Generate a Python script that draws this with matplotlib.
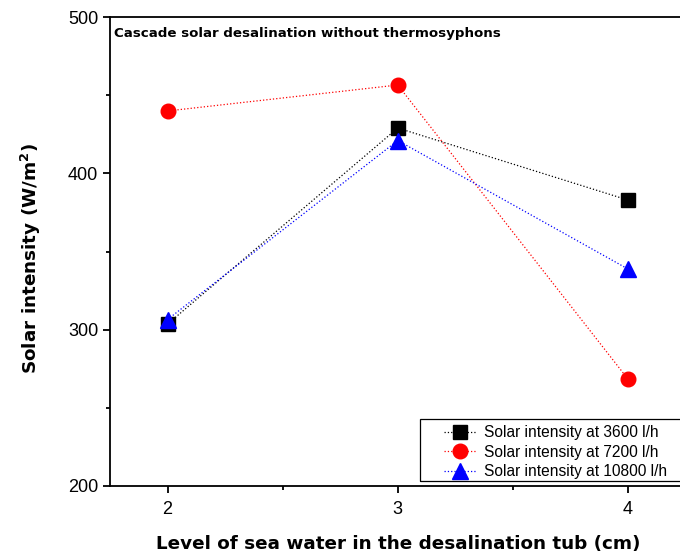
import matplotlib
matplotlib.use("Agg")
import matplotlib.pyplot as plt
from matplotlib.ticker import MultipleLocator
from matplotlib.patches import Rectangle

plt.rcParams['font.family'] = ['Liberation Sans', 'DejaVu Sans']
plt.rcParams['mathtext.fontset'] = 'dejavusans'

levels = [2, 3, 4]
s3600 = [303.6, 429.0, 382.9]
s7200 = [439.9, 456.5, 268.4]
s10800 = [306.5, 421.0, 338.8]
labels = ["Solar intensity at 3600 l/h", "Solar intensity at 7200 l/h", "Solar intensity at 10800 l/h"]

fig = plt.figure(figsize=(6.8, 5.56), dpi=100)
W, H = 680, 556
ax = fig.add_axes([110 / W, 1 - 486 / H, (685.5 - 110) / W, (486 - 17) / H])

ax.plot(levels, s3600, ls=':', lw=0.9, color='black', marker='s', ms=9.5, label=labels[0])
ax.plot(levels, s7200, ls=':', lw=0.9, color='red', marker='o', ms=10.5, label=labels[1])
ax.plot(levels, s10800, ls=':', lw=0.9, color='blue', marker='^', ms=11, label=labels[2])

ax.set_xlim(1.75, 4.25)
ax.set_ylim(200, 500)
ax.xaxis.set_major_locator(MultipleLocator(1))
ax.xaxis.set_minor_locator(MultipleLocator(0.5))
ax.yaxis.set_major_locator(MultipleLocator(100))
ax.yaxis.set_minor_locator(MultipleLocator(50))
ax.tick_params(which='major', direction='out', length=5, width=1.3, labelsize=13)
ax.tick_params(which='minor', direction='out', length=3, width=1.3)
ax.tick_params(axis='x', pad=6)
for s in ax.spines.values():
    s.set_linewidth(1.3)

bold = dict(family='DejaVu Sans', fontweight='bold')
ax.set_xlabel("Level of sea water in the desalination tub (cm)", fontsize=13.2, labelpad=12, **bold)
ax.set_ylabel(r"Solar intensity (W/m$^\mathbf{2}$)", fontsize=13.2, **bold)
ax.yaxis.set_label_coords(-0.117, 0.485)
ax.text(0.007, 0.978, "Cascade solar desalination without thermosyphons", transform=ax.transAxes,
        fontsize=9.65, va='top', ha='left', **bold)

fig.patches.append(Rectangle((420 / W, 1 - 481 / H), (700 - 420) / W, (481 - 419) / H,
                             transform=fig.transFigure, fill=False, edgecolor='black', lw=0.9,
                             zorder=5))
leg = ax.legend(loc='upper left', bbox_to_anchor=(444 / W, 1 - 425 / H), bbox_transform=fig.transFigure,
                fontsize=11.2, frameon=False, handlelength=2.1,
                borderpad=0, labelspacing=0.3, handletextpad=0.45, borderaxespad=0)

fig.savefig("out.png", dpi=100)
